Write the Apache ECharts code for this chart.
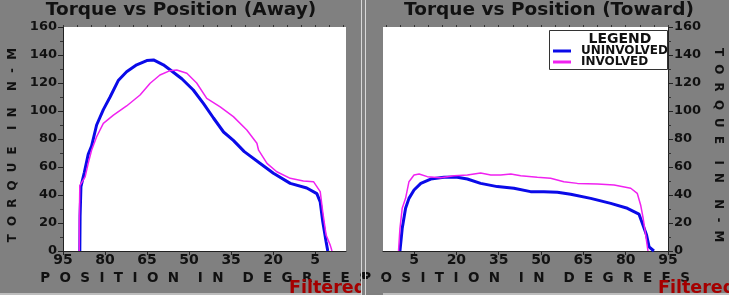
<!DOCTYPE html>
<html>
<head>
<meta charset="utf-8">
<script src="https://cdn.jsdelivr.net/npm/echarts@6/dist/echarts.min.js"></script>
<style>html,body{margin:0;padding:0;background:#808080;}#c{width:729px;height:295px;}</style>
</head>
<body>
<div id="c"></div>
<script>
// ---- data (position in degrees, torque in N-M) ----
const awayUninvolvedPos = [89.0,88.9,88.6,87.4,86.0,84.8,83.0,80.6,78.2,75.2,72.3,68.7,65.1,62.7,59.2,56.8,52.6,48.5,44.9,41.3,37.7,34.2,30.3,24.6,19.9,13.9,8.0,4.4,3.2,2.3,1.1,0.5];
const awayUninvolvedTq  = [0,25,46,56,69,75,90,101,110,122,128,133,136,136.5,133,129.5,123,115,105.5,95,85,79,71,62.5,55.5,48.3,45,41,35,21,6.6,0];
const awayInvolvedPos   = [89.2,89.2,89.0,87.1,86.0,84.8,83.0,80.6,77.0,72.3,67.5,63.9,60.4,56.8,54.4,50.8,47.3,43.7,38.9,34.2,29.4,25.8,25.2,22.2,18.7,13.9,9.2,5.6,3.2,2.3,1.1,-0.4,-1.0];
const awayInvolvedTq    = [0,20,46.7,53,62.6,72,81.6,91.2,97,103.6,111.4,119.8,125.7,128.8,129.3,127,120,109,103,96,86.4,77,72,62.6,56.6,51.9,50,49.5,42.4,28,11.4,4,0];
const towardUninvolvedPos = [0,0.8,2.0,3.2,5.0,7.4,10.9,15.6,19.8,23.9,28.6,34.5,40.4,46.3,51.0,55.8,60.5,67.6,74.7,80.6,84.7,85.9,87.4,88.3,90.0];
const towardUninvolvedTq  = [0,16,30.5,37.6,43.6,48.3,51.4,52.6,52.9,51.4,48.3,46,44.8,42.4,42.4,41.9,40.5,37.6,34,30.5,26.4,19.8,11.4,3,0];
const towardInvolvedPos   = [-0.5,0,0.8,2.0,3.2,5.0,6.8,9.7,14.4,19.2,23.9,28.6,32.2,35.7,39.3,42.8,48.7,53.4,58.1,62.9,70.0,75.9,81.8,84.1,85.3,86.2,87.1,87.9];
const towardInvolvedTq    = [0,16,30.5,37.6,49.5,54.3,55,53.1,52.4,53.8,54.3,55.7,54.3,54.3,55,53.8,52.6,51.9,49.5,48.3,47.9,47.1,44.8,41.2,32.9,23.4,11.4,0];
const xTickLabels = [5,20,35,50,65,80,95];
const xMinorTicks = [-5,0,5,10,15,20,25,30,35,40,45,50,55,60,65,70,75,80,85,90,95];
const seriesNames = ['UNINVOLVED','INVOLVED'];
const titles = ['Torque vs Position (Away)','Torque vs Position (Toward)'];
const xName = 'P  O  S  I  T  I  O  N    I  N    D  E  G  R  E  E  S';
const yName = 'T  O  R  Q  U  E    I  N    N  -  M';

const zip = (a,b) => a.map((v,i) => [v, b[i]]);
const FONT = 'DejaVu Sans';
const BLUE = '#0a0ae8', MAG = '#f022f0';

function xMain(gi, inverse){
  return {gridIndex: gi, type:'value', min:-6, max:95, inverse: inverse,
    axisLine:{show:true, onZero:false, lineStyle:{color:'#222', width:1}},
    axisTick:{show:true, customValues:xTickLabels, length:4, lineStyle:{color:'#222'}},
    axisLabel:{customValues:xTickLabels, margin:2, fontFamily:FONT, fontWeight:'bold', fontSize:14, color:'#111'},
    splitLine:{show:false},
    name:xName, nameLocation:'middle', nameGap:15,
    nameTextStyle:{fontFamily:FONT, fontWeight:'bold', fontSize:13.5, color:'#111'}};
}
function xMinor(gi, inverse){
  return {gridIndex: gi, type:'value', min:-6, max:95, inverse: inverse,
    axisLine:{show:false, onZero:false}, axisLabel:{show:false}, splitLine:{show:false},
    axisTick:{show:true, customValues:xMinorTicks, length:2, lineStyle:{color:'#333'}}};
}
function yAx(gi, pos){
  return {gridIndex: gi, type:'value', min:0, max:160, interval:20, position:pos,
    axisLine:{show:true, onZero:false, lineStyle:{color:'#222', width:1}},
    axisTick:{show:true, length:5, lineStyle:{color:'#222'}},
    minorTick:{show:true, splitNumber:2, length:3, lineStyle:{color:'#333'}},
    axisLabel:{margin:6, fontFamily:FONT, fontWeight:'bold', fontSize:13, color:'#111'},
    splitLine:{show:false}, minorSplitLine:{show:false},
    name: pos==='left' ? yName + '   ' : '   ' + yName, nameLocation:'middle', nameRotate: pos==='left' ? 90 : -90, nameGap: 44,
    nameTextStyle:{fontFamily:FONT, fontWeight:'bold', fontSize:11.8, color:'#111'}};
}
function line(name, data, xi, yi, color, w){
  return {type:'line', name:name, data:data, xAxisIndex:xi, yAxisIndex:yi,
    showSymbol:false, symbol:'none', animation:false,
    lineStyle:{color:color, width:w}, itemStyle:{color:color}};
}

const chart = echarts.init(document.getElementById('c'), null, {renderer:'canvas'});
chart.setOption({
  backgroundColor:'#808080',
  animation:false,
  grid:[
    {left:63, top:27, width:283, height:224, show:true, backgroundColor:'#ffffff', borderWidth:0},
    {left:383, top:27, width:285, height:224, show:true, backgroundColor:'#ffffff', borderWidth:0}
  ],
  xAxis:[xMain(0,true), xMinor(0,true), xMain(1,false), xMinor(1,false)],
  yAxis:[yAx(0,'left'), yAx(1,'right')],
  legend:{show:true, orient:'vertical', left:553, top:45, padding:0, itemWidth:18, itemHeight:3, itemGap:-1,
    icon:'rect', selectedMode:false, z:20, data:seriesNames,
    textStyle:{fontFamily:FONT, fontWeight:'bold', fontSize:12, color:'#111', lineHeight:11, padding:[0,0,0,5]}},
  series:[
    line(seriesNames[0], zip(awayUninvolvedPos, awayUninvolvedTq), 0, 0, BLUE, 3),
    line(seriesNames[1], zip(awayInvolvedPos, awayInvolvedTq), 0, 0, MAG, 1.5),
    line(seriesNames[0], zip(towardUninvolvedPos, towardUninvolvedTq), 2, 1, BLUE, 3),
    line(seriesNames[1], zip(towardInvolvedPos, towardInvolvedTq), 2, 1, MAG, 1.5)
  ],
  graphic:[
    {type:'text', z:10, style:{text:titles[0], x:181, y:10, textAlign:'center', textVerticalAlign:'middle', font:'bold 18.5px "DejaVu Sans"', fill:'#111'}},
    {type:'text', z:10, style:{text:titles[1], x:549, y:10, textAlign:'center', textVerticalAlign:'middle', font:'bold 18.5px "DejaVu Sans"', fill:'#111'}},
    {type:'text', z:10, style:{text:'Filtered', x:289, y:288, textVerticalAlign:'middle', font:'bold 17.5px "DejaVu Sans"', fill:'#a50000'}},
    {type:'text', z:10, style:{text:'Filtered', x:658, y:288, textVerticalAlign:'middle', font:'bold 17.5px "DejaVu Sans"', fill:'#a50000'}},
    {type:'rect', z:11, shape:{x:362, y:279, width:21, height:16}, style:{fill:'#808080'}},
    {type:'line', z:12, shape:{x1:361.5, y1:0, x2:361.5, y2:295}, style:{stroke:'#d8d8d8', lineWidth:1}},
    {type:'line', z:12, shape:{x1:365.5, y1:0, x2:365.5, y2:295}, style:{stroke:'#d8d8d8', lineWidth:1}},
    {type:'rect', z:9, shape:{x:0, y:293, width:729, height:2}, style:{fill:'#bdbdbd'}},
    {type:'rect', z:15, shape:{x:549.5, y:30.5, width:118, height:39}, style:{fill:'#ffffff', stroke:'#333', lineWidth:1}},
    {type:'text', z:21, style:{text:'LEGEND', x:620, y:39, textAlign:'center', textVerticalAlign:'middle', font:'bold 14px "DejaVu Sans"', fill:'#111'}}
  ]
});
</script>
</body>
</html>
